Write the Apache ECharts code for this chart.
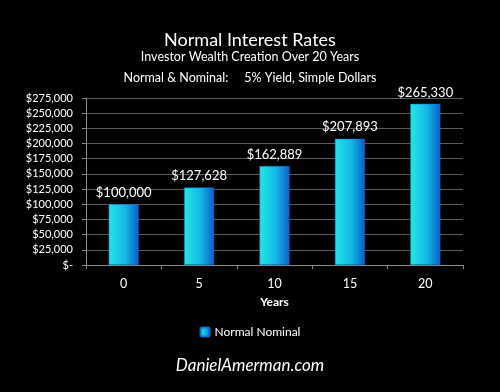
<!DOCTYPE html>
<html><head><meta charset="utf-8">
<script src="https://cdn.jsdelivr.net/npm/echarts@6/dist/echarts.min.js"></script>
<style>html,body{margin:0;padding:0;background:#000;}#c{width:500px;height:392px;}</style>
</head><body><div id="c"></div>
<script>
const categories = ['0', '5', '10', '15', '20'];
const values = [100000, 127628, 162889, 207893, 265330];
const seriesName = 'Normal Nominal';
const titleText = 'Normal Interest Rates';
const subtitle1 = 'Investor Wealth Creation Over 20 Years';
const subtitle2 = 'Normal & Nominal:     5% Yield, Simple Dollars';
const xAxisName = 'Years';
const footer = 'DanielAmerman.com';

const FONT = 'Lato, "Open Sans", sans-serif';
const grad = new echarts.graphic.LinearGradient(0, 0, 1, 0, [
  {offset: 0, color: '#22e8e4'},
  {offset: 0.55, color: '#14b8e6'},
  {offset: 1, color: '#0a5fc8'}
]);
function fmt(v){ return v === 0 ? '$-' : '$' + v.toLocaleString('en-US'); }

const chart = echarts.init(document.getElementById('c'));
chart.setOption({
  backgroundColor: '#000',
  animation: false,
  title: [
    {text: titleText, left: 'center', top: 26, textStyle: {color: '#fff', fontSize: 18, fontWeight: 'normal', fontFamily: FONT}},
    {text: subtitle1, left: 'center', top: 45, textStyle: {color: '#fff', fontSize: 12.5, fontWeight: 'normal', fontFamily: FONT}},
    {text: subtitle2, left: 'center', top: 66, textStyle: {color: '#fff', fontSize: 12.5, fontWeight: 'normal', fontFamily: FONT}},
    {text: footer, left: 'center', top: 352, textStyle: {color: '#fff', fontSize: 17, fontStyle: 'italic', fontWeight: 'normal', fontFamily: FONT}}
  ],
  legend: {
    data: [seriesName], bottom: 49, left: 'center', itemWidth: 9, itemHeight: 9, itemGap: 4,
    textStyle: {color: '#fff', fontSize: 12, fontFamily: FONT}
  },
  grid: {left: 86, right: 37, top: 98, bottom: 127},
  xAxis: {
    type: 'category', data: categories,
    name: xAxisName, nameLocation: 'middle', nameGap: 31,
    nameTextStyle: {color: '#fff', fontSize: 12, fontWeight: 'bold', fontFamily: FONT},
    axisLine: {show: true, lineStyle: {color: '#888'}},
    axisTick: {show: true, inside: false, length: 4, lineStyle: {color: '#888'}},
    axisLabel: {color: '#fff', fontSize: 12.5, margin: 12, fontFamily: FONT}
  },
  yAxis: {
    type: 'value', min: 0, max: 275000, interval: 25000,
    axisLine: {show: true, lineStyle: {color: '#888'}},
    axisTick: {show: true, length: 4, lineStyle: {color: '#888'}},
    splitLine: {lineStyle: {color: '#5a5a5a', width: 1}},
    axisLabel: {color: '#fff', fontSize: 11, margin: 13, fontFamily: FONT, formatter: fmt}
  },
  series: [{
    name: seriesName, type: 'bar', data: values, barWidth: 30,
    itemStyle: {color: grad, borderColor: '#0d6fd0', borderWidth: 0.5},
    label: {show: true, position: 'top', distance: 5, color: '#fff', fontSize: 13, fontFamily: FONT, formatter: p => fmt(p.value)}
  }]
});
</script></body></html>
